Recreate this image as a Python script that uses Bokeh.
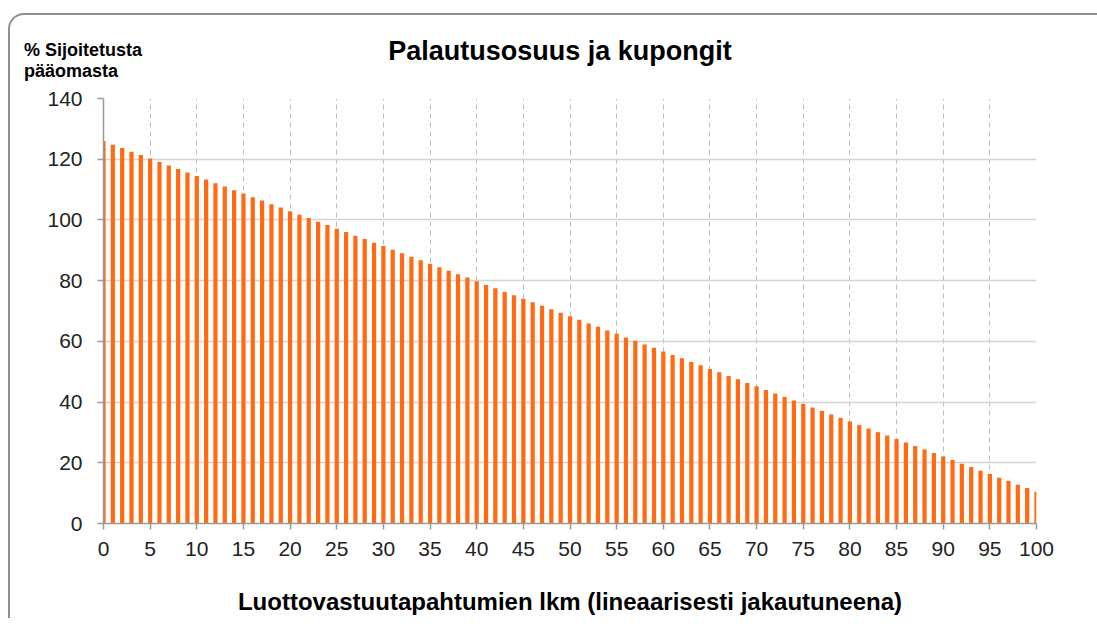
from bokeh.plotting import figure
from bokeh.models import FixedTicker, Range1d, Div
from bokeh.layouts import column
from bokeh.embed import file_html
from bokeh.resources import INLINE

# Number of credit events (0..100)
events = list(range(0, 101))
# Return share (% of invested capital)
values = [
    126.0, 124.8, 123.7, 122.5, 121.4, 120.2, 119.1, 117.9, 116.8, 115.6,
    114.5, 113.3, 112.1, 111.0, 109.8, 108.7, 107.5, 106.4, 105.2, 104.1,
    102.9, 101.7, 100.6, 99.4, 98.3, 97.1, 96.0, 94.8, 93.7, 92.5,
    91.4, 90.2, 89.0, 87.9, 86.7, 85.6, 84.4, 83.3, 82.1, 81.0,
    79.8, 78.6, 77.5, 76.3, 75.2, 74.0, 72.9, 71.7, 70.6, 69.4,
    68.3, 67.1, 65.9, 64.8, 63.6, 62.5, 61.3, 60.2, 59.0, 57.9,
    56.7, 55.5, 54.4, 53.2, 52.1, 50.9, 49.8, 48.6, 47.5, 46.3,
    45.2, 44.0, 42.8, 41.7, 40.5, 39.4, 38.2, 37.1, 35.9, 34.8,
    33.6, 32.4, 31.3, 30.1, 29.0, 27.8, 26.7, 25.5, 24.4, 23.2,
    22.1, 20.9, 19.7, 18.6, 17.4, 16.3, 15.1, 14.0, 12.8, 11.7,
    10.5,
]
x_ticks = list(range(0, 101, 5))
y_ticks = [0, 20, 40, 60, 80, 100, 120, 140]

title_text = "Palautusosuus ja kupongit"
ylabel_lines = ["% Sijoitetusta", "pääomasta"]
xlabel_text = "Luottovastuutapahtumien lkm (lineaarisesti jakautuneena)"

FONT = "Liberation Sans"

header_html = (
    '<div style="position:relative;width:1080px;height:63px;'
    'font-family:\'Liberation Sans\',Arial,sans-serif;color:#000;">'
    '<div style="position:absolute;left:9px;top:20px;font-size:18px;'
    'font-weight:bold;line-height:21px;white-space:nowrap;">'
    + "<br>".join(ylabel_lines) +
    '</div>'
    '<div style="position:absolute;left:0;width:1090px;top:15px;'
    'text-align:center;font-size:27px;font-weight:bold;line-height:32px;'
    'white-space:nowrap;">' + title_text + '</div>'
    '</div>'
)
header = Div(text=header_html, width=1080, height=63)

p = figure(
    frame_width=933, frame_height=425,
    min_border_left=93, min_border_right=55,
    min_border_top=10, min_border_bottom=95,
    x_range=Range1d(0, 100), y_range=Range1d(0, 140),
    output_backend="svg", toolbar_location=None,
    background_fill_color="white", border_fill_color="white",
)
p.outline_line_color = None

p.vbar(x=events, top=values, width=0.45, color="#FF6A13", line_color=None)

# grids
p.ygrid.ticker = FixedTicker(ticks=y_ticks)
p.ygrid.grid_line_color = "#d4d4d4"
p.ygrid.grid_line_width = 1.5
p.xgrid.ticker = FixedTicker(ticks=x_ticks)
p.xgrid.grid_line_color = "#bdbdbd"
p.xgrid.grid_line_dash = "5 4"
p.xgrid.grid_line_width = 1

# axes
p.xaxis.ticker = FixedTicker(ticks=x_ticks)
p.yaxis.ticker = FixedTicker(ticks=y_ticks)
for ax in (p.xaxis[0], p.yaxis[0]):
    ax.axis_line_color = "#9a9a9a"
    ax.axis_line_width = 1.5
    ax.major_tick_line_color = "#9a9a9a"
    ax.major_tick_line_width = 1.5
    ax.major_tick_out = 6
    ax.major_tick_in = 0
    ax.minor_tick_line_color = None
    ax.major_label_text_font = FONT
    ax.major_label_text_font_size = "21px"
    ax.major_label_text_color = "#222222"
p.yaxis.major_label_standoff = 15
p.xaxis.major_label_standoff = 12

p.xaxis.axis_label = xlabel_text
p.xaxis.axis_label_text_font = FONT
p.xaxis.axis_label_text_font_style = "bold"
p.xaxis.axis_label_text_font_size = "24px"
p.xaxis.axis_label_text_color = "black"
p.xaxis.axis_label_standoff = 29

layout = column(
    header, p,
    styles={"margin-left": "8px", "margin-top": "13px",
            "border-top": "2px solid #8f8f8f",
            "border-left": "2px solid #8f8f8f",
            "border-top-left-radius": "16px"},
)

open("out.html", "w").write(file_html(layout, INLINE))
